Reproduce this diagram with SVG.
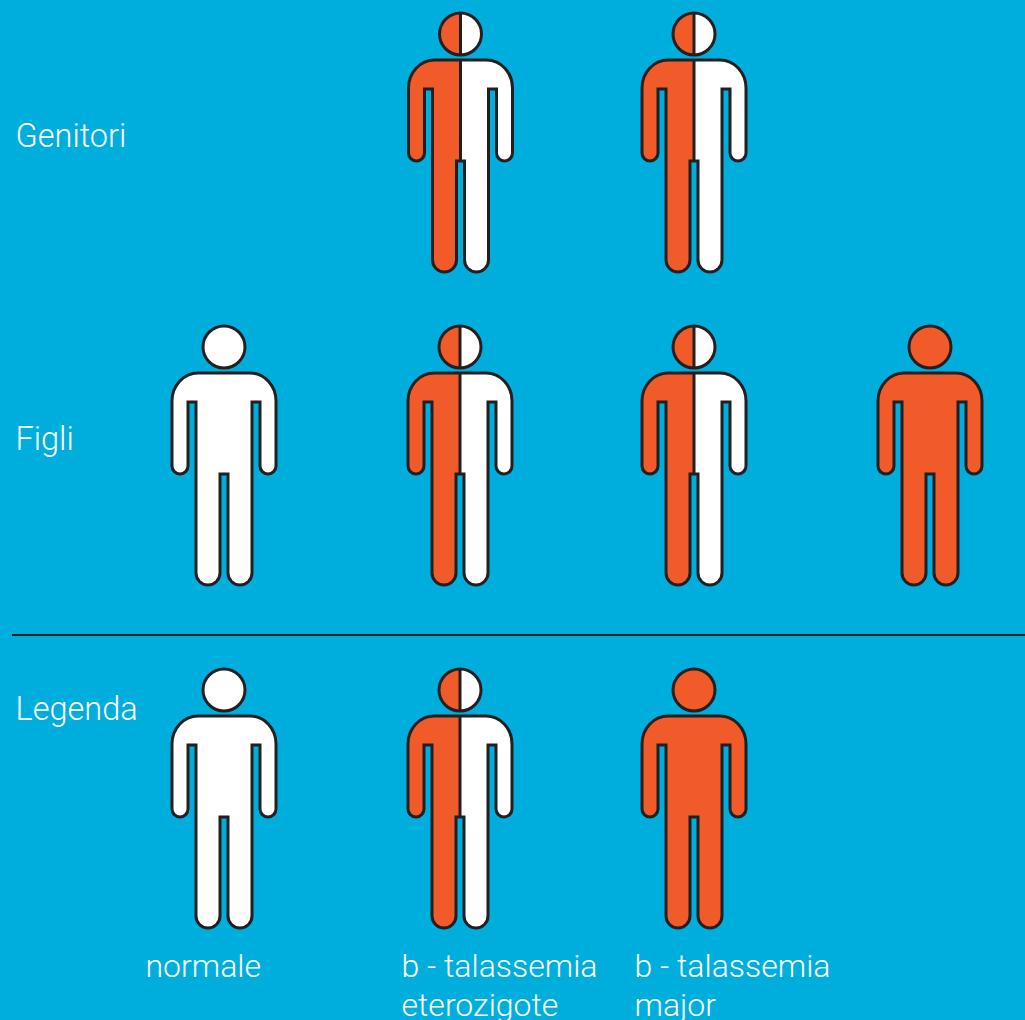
<svg xmlns="http://www.w3.org/2000/svg" width="1025" height="1020" viewBox="0 0 1025 1020">
<style>
.lab{font-family:Roboto,"Liberation Sans",sans-serif;font-weight:300;font-size:32px;fill:#fff}
.big{font-size:32.500px}
.o{fill:none;stroke:#231f20;stroke-width:3;stroke-linejoin:miter}
.w{fill:#fff}.r{fill:#f15a29}
</style>
<defs>
<path id="shape" d="M-26,48H26A26,28 0 0 1 52,76V141A8,8 0 0 1 36,141V77H28V248A12,12 0 0 1 4,248V149H-4V248A12,12 0 0 1 -28,248V77H-36V141A8,8 0 0 1 -52,141V76A26,28 0 0 1 -26,48Z"/>
<clipPath id="lh"><rect x="-60" y="-5" width="60" height="290"/></clipPath>
<g id="white"><circle class="w" cy="22" r="21"/><use href="#shape" class="w"/><circle class="o" cy="22" r="21"/><use href="#shape" class="o"/></g>
<g id="red"><circle class="r" cy="22" r="21"/><use href="#shape" class="r"/><circle class="o" cy="22" r="21"/><use href="#shape" class="o"/></g>
<g id="half"><circle class="w" cy="22" r="21"/><use href="#shape" class="w"/><g clip-path="url(#lh)"><circle class="r" cy="22" r="21"/><use href="#shape" class="r"/></g><circle class="o" cy="22" r="21"/><use href="#shape" class="o"/><path class="o" d="M0,1V43M0,48V149"/></g>
</defs>
<rect id="bg" width="1025" height="1020" fill="#00aedd"/>
<g id="connectors"><line x1="12" y1="635" x2="1025" y2="635" stroke="#231f20" stroke-width="2"/></g>
<g id="parent-1"><use href="#half" x="460.500" y="12"/></g>
<g id="parent-2"><use href="#half" x="694" y="12"/></g>
<g id="child-1"><use href="#white" x="224" y="325"/></g>
<g id="child-2"><use href="#half" x="460" y="325"/></g>
<g id="child-3"><use href="#half" x="694" y="325"/></g>
<g id="child-4"><use href="#red" x="930" y="325"/></g>
<g id="legend-normal"><use href="#white" x="224" y="668"/><text class="lab" x="145.500" y="977">normale</text></g>
<g id="legend-het"><use href="#half" x="460" y="668"/><text class="lab" x="401.500" y="977">b - talassemia</text><text class="lab" x="401.500" y="1016">eterozigote</text></g>
<g id="legend-major"><use href="#red" x="694" y="668"/><text class="lab" x="634.500" y="977">b - talassemia</text><text class="lab" x="634.500" y="1016">major</text></g>
<g id="labels">
<text class="lab big" x="15.500" y="147">Genitori</text>
<text class="lab big" x="15.500" y="450">Figli</text>
<text class="lab big" x="15.500" y="720">Legenda</text>
</g>
</svg>
